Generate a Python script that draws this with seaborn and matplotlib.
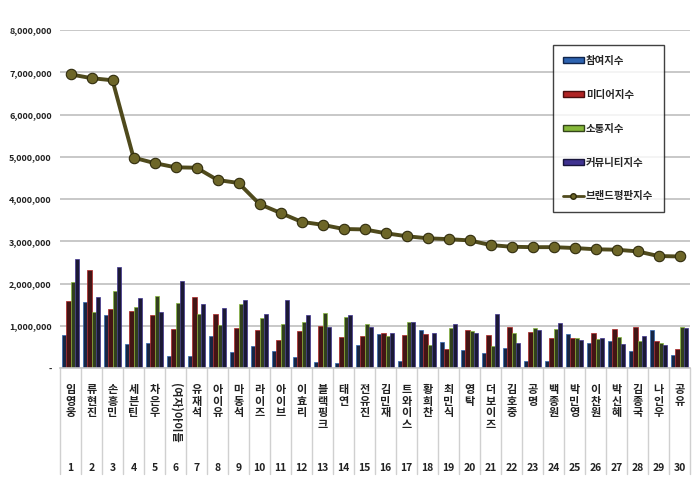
import matplotlib
matplotlib.use("Agg")
import matplotlib.pyplot as plt
from matplotlib.patches import Patch
from matplotlib.lines import Line2D
import seaborn as sns
import pandas as pd

# 데이터
names = ["임영웅", "류현진", "손흥민", "세븐틴", "차은우", "(여자)아이들", "유재석", "아이유",
         "마동석", "라이즈", "아이브", "이효리", "블랙핑크", "태연", "전유진", "김민재",
         "트와이스", "황희찬", "최민식", "영탁", "더보이즈", "김호중", "공명", "백종원",
         "박민영", "이찬원", "박신혜", "김종국", "나인우", "공유"]
ranks = list(range(1, 31))

participation = [790000, 1560000, 1250000, 560000, 590000, 280000, 280000, 750000, 370000, 520000,
                 400000, 270000, 150000, 130000, 550000, 800000, 170000, 900000, 610000, 420000,
                 350000, 470000, 170000, 160000, 800000, 600000, 630000, 400000, 890000, 300000]
media = [1580000, 2320000, 1400000, 1350000, 1250000, 920000, 1680000, 1270000, 940000, 900000,
         670000, 880000, 1000000, 730000, 760000, 840000, 790000, 800000, 460000, 900000,
         790000, 980000, 850000, 710000, 720000, 840000, 920000, 960000, 650000, 450000]
communication = [2040000, 1320000, 1820000, 1440000, 1700000, 1540000, 1270000, 1020000, 1510000, 1190000,
                 1050000, 1080000, 1300000, 1200000, 1050000, 760000, 1100000, 540000, 940000, 870000,
                 520000, 840000, 940000, 930000, 700000, 690000, 730000, 650000, 600000, 960000]
community = [2590000, 1670000, 2390000, 1650000, 1330000, 2060000, 1520000, 1420000, 1600000, 1280000,
             1600000, 1260000, 970000, 1260000, 970000, 820000, 1080000, 820000, 1050000, 840000,
             1280000, 600000, 900000, 1060000, 670000, 710000, 560000, 760000, 540000, 940000]
brand = [6950000, 6860000, 6810000, 4980000, 4850000, 4750000, 4740000, 4450000, 4380000, 3880000,
         3670000, 3460000, 3390000, 3290000, 3280000, 3190000, 3120000, 3070000, 3050000, 3020000,
         2910000, 2870000, 2860000, 2860000, 2840000, 2810000, 2800000, 2760000, 2650000, 2640000]

series_names = ["참여지수", "미디어지수", "소통지수", "커뮤니티지수"]
bar_faces = ["#10244a", "#4a0e0e", "#33441a", "#17143a"]
bar_edges = ["#2d63b0", "#b02424", "#86b83a", "#3f3290"]

long_df = pd.DataFrame({
    "name": names * 4,
    "series": sum([[s] * len(names) for s in series_names], []),
    "value": participation + media + communication + community,
})
brand_df = pd.DataFrame({"name": names, "brand": brand})

sns.set_theme(style="white")
plt.rcParams["font.family"] = ["Noto Sans CJK KR", "DejaVu Sans"]

fig = plt.figure(figsize=(7, 4.98), dpi=100)
ax = fig.add_axes([60 / 700, 130 / 498, 630 / 700, 338 / 498])

sns.barplot(data=long_df, x="name", y="value", hue="series", hue_order=series_names,
            order=names, palette=bar_faces, width=0.8, gap=0, legend=False, ax=ax)
for i, cont in enumerate(ax.containers):
    for p in cont:
        p.set_edgecolor(bar_edges[i])
        p.set_linewidth(0.5)

sns.pointplot(data=brand_df, x="name", y="brand", order=names, color="#4f4a1c",
              markers="o", linestyles="-", ax=ax, errorbar=None,
              markersize=7.5, linewidth=2.8,
              markerfacecolor="#6d6628", markeredgecolor="#2f2b0c", markeredgewidth=0.8)

ax.set_ylim(0, 8000000)
ax.set_xlim(-0.5, 29.5)
yt = range(0, 8000001, 1000000)
ax.set_yticks(list(yt))
ax.set_yticklabels(["-"] + [f"{v:,}" for v in list(yt)[1:]], fontsize=6.5,
                   fontweight="bold", color="#222222")
ax.yaxis.grid(True, color="#c8c8c8", linewidth=1.4)
ax.set_axisbelow(True)
for side in ["left", "top", "right"]:
    ax.spines[side].set_visible(False)
ax.spines["bottom"].set_color("#c8c8c8")
ax.spines["bottom"].set_linewidth(1.2)
ax.tick_params(axis="y", length=0, pad=6)
ax.tick_params(axis="x", length=0, pad=11)
ax.set_xlabel("")
ax.set_ylabel("")

# 이름은 세로로 한 글자씩, 괄호가 있는 이름은 회전
stacked = [n if "(" in n else "\n".join(n) for n in names]
ax.set_xticks(range(len(names)))
ax.set_xticklabels(stacked, fontsize=8, fontweight="bold", color="#222222",
                   va="top", linespacing=0.85)
for lab, n in zip(ax.get_xticklabels(), names):
    if "(" in n:
        lab.set_rotation(-90)
        lab.set_fontsize(8)

xtr = ax.get_xaxis_transform()
for i, r in enumerate(ranks):
    ax.text(i, -0.295, str(r), transform=xtr, ha="center", va="center",
            fontsize=7.5, fontweight="bold", color="#222222")
for i in range(len(names) + 1):
    ax.plot([i - 0.5, i - 0.5], [0, -0.315], transform=xtr, color="#d0d0d0",
            linewidth=1.0, clip_on=False)

handles = [Patch(facecolor=bar_edges[i], edgecolor=bar_faces[i], label=series_names[i])
           for i in range(4)]
handles.append(Line2D([0], [0], color="#4f4a1c", linewidth=2, marker="o", markersize=4,
                      markerfacecolor="#6d6628", markeredgecolor="#2f2b0c",
                      label="브랜드평판지수"))
leg = ax.legend(handles=handles, loc="upper left", bbox_to_anchor=(0.782, 0.955),
                fontsize=7.5, frameon=True, fancybox=False, labelspacing=2.3,
                handlelength=2.0, handleheight=0.5, handletextpad=0.2,
                borderpad=1.0, borderaxespad=0)
leg.get_frame().set_edgecolor("#111111")
leg.get_frame().set_linewidth(1.0)
for t in leg.get_texts():
    t.set_fontweight("bold")

fig.savefig("out.png", dpi=100, facecolor="white")
